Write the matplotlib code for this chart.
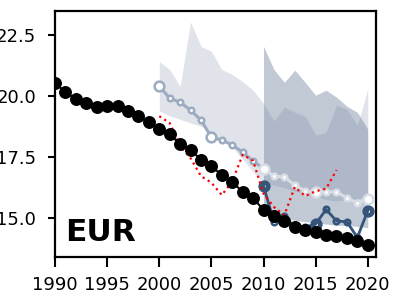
import numpy as np
import matplotlib.pyplot as plt

# historical series (black dots)
hist_years = list(range(1990, 2021))
hist_vals = [20.55, 20.16, 19.88, 19.71, 19.57, 19.59, 19.59, 19.38, 19.18, 18.93, 18.65,
             18.44, 18.03, 17.80, 17.40, 17.13, 16.76, 16.48, 16.07, 15.82, 15.33,
             15.08, 14.86, 14.63, 14.50, 14.43, 14.30, 14.26, 14.18, 14.06, 13.90]

# older projection (light line) and its range
proj1_years = list(range(2000, 2021))
proj1_vals = [20.41, 19.92, 19.75, 19.43, 19.02, 18.32, 18.20, 18.00, 17.70, 17.34, 17.02,
              16.72, 16.68, 16.35, 16.10, 16.07, 16.07, 16.07, 15.82, 15.62, 15.78]
proj1_hi = [21.43, 21.10, 20.41, 23.05, 22.05, 21.84, 21.10, 20.90, 20.60, 20.25, 19.70,
            18.98, 19.55, 19.34, 19.18, 18.40, 18.52, 19.63, 19.47, 18.80, 20.30]
proj1_lo = [19.40, 19.20, 19.05, 18.90, 18.77, 18.50, 18.20, 17.90, 17.42, 16.90, 16.45,
            16.35, 16.25, 16.10, 16.00, 15.90, 15.75, 15.70, 15.75, 15.80, 15.90]

# newer projection (dark line) and its range
proj2_years = list(range(2010, 2021))
proj2_vals = [16.31, 14.84, 15.08, 14.62, 14.63, 14.75, 15.35, 14.88, 14.84, 14.20, 15.30]
proj2_hi = [22.05, 21.10, 20.57, 21.07, 20.57, 20.04, 20.25, 19.96, 19.59, 19.34, 18.65]
proj2_lo = [15.40, 15.15, 15.00, 14.90, 14.85, 14.80, 14.75, 14.70, 14.70, 14.65, 14.60]

# red dotted series
red_years = list(range(2000, 2018))
red_vals = [19.18, 18.90, 17.95, 17.46, 16.72, 16.45, 15.94, 16.50, 17.60, 17.35, 16.00,
            15.45, 15.12, 16.27, 15.90, 16.10, 16.20, 16.97]

fill_col = '#647898'
light_col = '#9dabc0'
pale_col = '#d8dee6'
dark_col = '#34547a'

fig = plt.figure(figsize=(3.93, 2.90), dpi=100)
ax = fig.add_axes([0.14, 0.114, 0.817, 0.848])

ax.fill_between(proj1_years, proj1_lo, proj1_hi, color=fill_col, alpha=0.2, lw=0)
ax.fill_between(proj2_years, proj2_lo, proj2_hi, color=fill_col, alpha=0.4, lw=0)

# light line: darker before 2010, paler after
big1 = [0, 5, 10, 15, 20]
ax.plot(proj1_years[:11], proj1_vals[:11], '-', color=light_col, lw=2.2, zorder=3)
ax.plot(proj1_years[10:], proj1_vals[10:], '-', color=pale_col, lw=2.2, zorder=3)
ax.plot(proj1_years[:11], proj1_vals[:11], 'o', color=light_col, ms=4, mfc='white',
        mew=1.8, zorder=3)
ax.plot(proj1_years[11:], proj1_vals[11:], 'o', color=pale_col, ms=4, mfc='white',
        mew=1.8, zorder=3)
ax.plot([proj1_years[i] for i in big1[:2]], [proj1_vals[i] for i in big1[:2]], 'o',
        color=light_col, ms=7, mfc='white', mew=1.8, zorder=3)
ax.plot([proj1_years[i] for i in big1[2:]], [proj1_vals[i] for i in big1[2:]], 'o',
        color=pale_col, ms=7, mfc='white', mew=1.8, zorder=3)

# dark line
big2 = [0, 5, 10]
ax.plot(proj2_years, proj2_vals, '-o', color=dark_col, lw=2, ms=4, mfc='none',
        mew=1.8, zorder=4)
ax.plot([proj2_years[i] for i in big2], [proj2_vals[i] for i in big2], 'o',
        color=dark_col, ms=7, mfc='none', mew=1.8, zorder=4)

ax.plot(red_years, red_vals, ':', color='red', lw=1.6, zorder=5)

ax.plot(hist_years, hist_vals, 'o-', color='black', ms=8.3, lw=1.5, zorder=6)

ax.text(0.03, 0.04, 'EUR', transform=ax.transAxes, fontsize=22.5, fontweight='bold',
        ha='left', va='bottom')

ax.set_xlim(1990, 2020.8)
ax.set_ylim(13.4, 23.5)
ax.set_xticks(range(1990, 2021, 5))
ax.set_yticks([15.0, 17.5, 20.0, 22.5])
ax.tick_params(axis='x', labelsize=13, length=7, width=1.5, pad=7)
ax.tick_params(axis='y', labelsize=13, length=5, width=1.5, pad=8.5)
for s in ax.spines.values():
    s.set_linewidth(1.6)

fig.savefig('out.png', dpi=100)
